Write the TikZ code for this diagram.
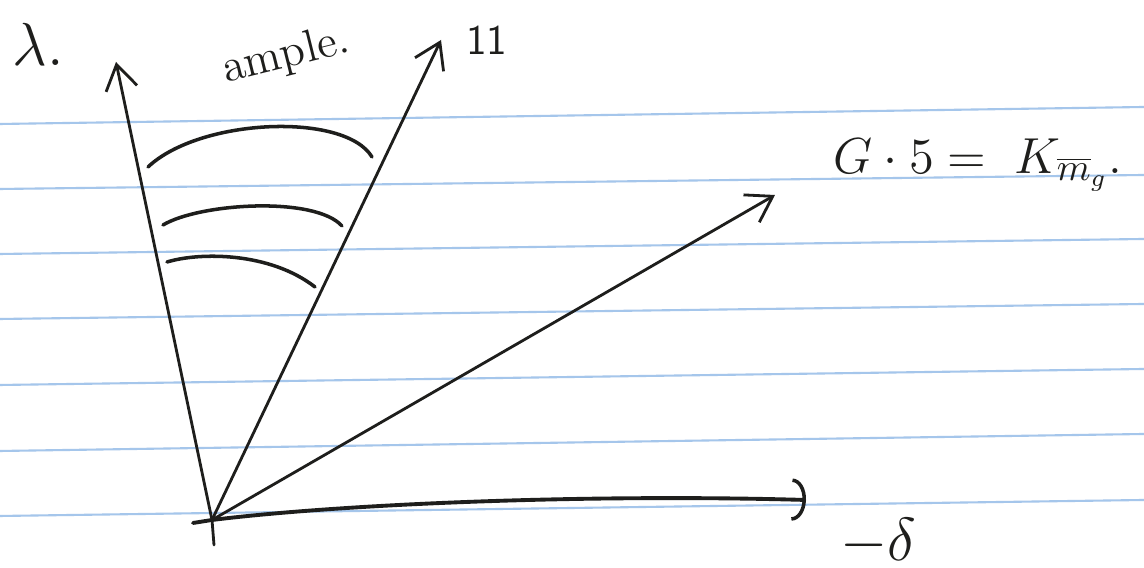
\documentclass[tikz,border=0pt]{standalone}
\usetikzlibrary{arrows.meta}
\definecolor{ruled}{RGB}{165,198,235}
\definecolor{ink}{RGB}{30,30,28}
\begin{document}
\begin{tikzpicture}[x=0.01cm,y=-0.01cm,
  ruledline/.style={ruled,line width=0.6pt},
  axis/.style={ink,line width=0.8pt,line cap=round,-{Straight Barb[length=7pt,width=9pt,line width=0.8pt]}},
  haxis/.style={ink,line width=1.1pt,line cap=round,-{Arc Barb[length=4pt,width=12pt,line width=1pt]}},
  arcline/.style={ink,line width=1pt,line cap=round},
  lbl/.style={inner sep=0pt,text=ink}]
\useasboundingbox (0,0) rectangle (1144,568);
\fill[white] (0,0) rectangle (1144,568);
\foreach \a/\b in {124/107,189/175,254/239,319/304,385/369,451/434,516/500}
  \draw[ruledline] (0,\a) -- (1144,\b);
% coordinates
\coordinate (O) at (212,520);
\coordinate (Vtail) at (214,545);
\coordinate (Htail) at (193,523);
\coordinate (Ltip) at (116,62);
\coordinate (Ptip) at (441,40);
\coordinate (Dtip) at (775,195);
\coordinate (Htip) at (806,500);
% axes
\draw[axis] (Vtail) -- (O) -- (Ltip);
\draw[axis] (O) -- (Ptip);
\draw[axis] (O) -- (Dtip);
\draw[haxis] (Htail) -- (O) .. controls (350,503) and (600,494) .. (Htip);
% arcs
\coordinate (a1s) at (148,167); \coordinate (a1e) at (372,157);
\coordinate (a2s) at (163,225); \coordinate (a2e) at (342,226);
\coordinate (a3s) at (167,262); \coordinate (a3e) at (315,287);
\draw[arcline] (a1s) .. controls (200,118) and (345,112) .. (a1e);
\draw[arcline] (a2s) .. controls (200,203) and (315,196) .. (a2e);
\draw[arcline] (a3s) .. controls (200,252) and (270,252) .. (a3e);
% labels
\node[lbl] (lam) at (38,44) {\fontsize{19}{19}\selectfont$\lambda.$};
\node[lbl,rotate=14] (ample) at (286,56) {\fontsize{13}{13}\selectfont ample.};
\node[lbl] (par) at (487,40) {\fontsize{12}{12}\selectfont\sffamily 11};
\node[lbl] (eq) at (978,165) {\fontsize{15}{15}\selectfont$G\cdot 5 = \;K_{\overline{m}_g}.$};
\node[lbl] (del) at (878,542) {\fontsize{16}{16}\selectfont$-\delta$};
\end{tikzpicture}
\end{document}
